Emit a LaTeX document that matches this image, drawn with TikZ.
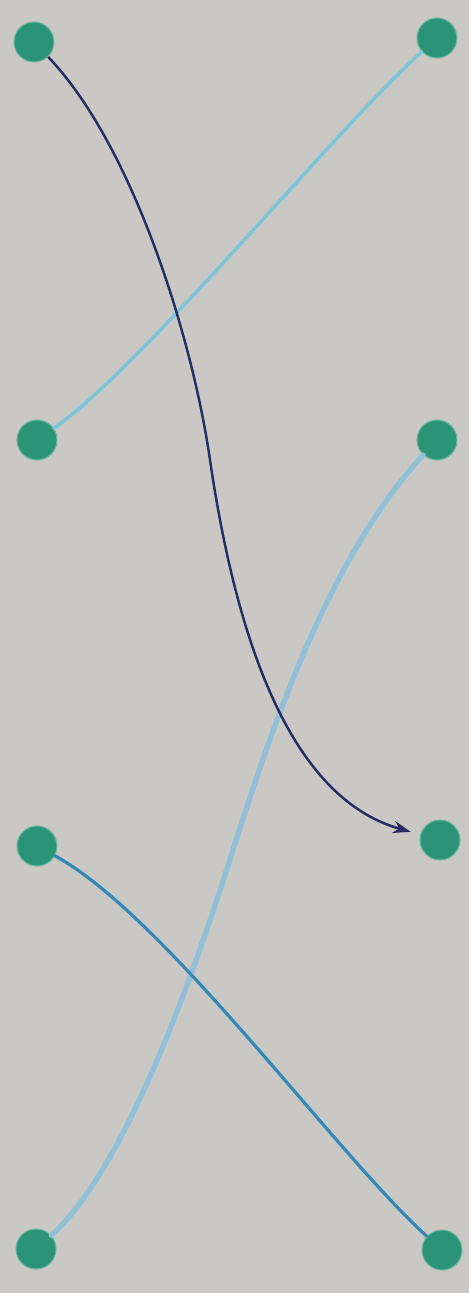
\documentclass[tikz,border=0pt]{standalone}
\usepackage{xcolor}
\usetikzlibrary{arrows.meta}
\definecolor{paper}{RGB}{202,200,197}
\definecolor{dotgreen}{RGB}{44,148,118}
\definecolor{inkdark}{RGB}{40,44,100}
\definecolor{inklight}{RGB}{125,196,216}
\definecolor{inkfaint}{RGB}{145,192,214}
\definecolor{inkmid}{RGB}{52,136,182}
\begin{document}
\begin{tikzpicture}[x=0.02cm, y=-0.02cm,
  dot/.style={circle, fill=dotgreen, draw=dotgreen!70!white, line width=0.6pt, minimum size=0.8cm, inner sep=0pt},
  a/.style={-{Stealth[length=10pt, width=7pt]}, line width=1.4pt, draw=inkdark, shorten >=0.2cm},
  lb/.style={line width=2pt, draw=inklight, line cap=round},
  fb/.style={line width=3pt, draw=inkfaint, line cap=round},
  mb/.style={line width=1.8pt, draw=inkmid, line cap=round}]
\fill[paper] (0,0) rectangle (469,1293);
\useasboundingbox (0,0) rectangle (469,1293);
% left column
\node[dot] (l1) at (34,42)    {};
\node[dot] (l2) at (37,440)   {};
\node[dot] (l3) at (37,846)   {};
\node[dot] (l4) at (36,1249)  {};
% right column
\node[dot] (r1) at (437,38)   {};
\node[dot] (r2) at (437,440)  {};
\node[dot] (r3) at (440,840)  {};
\node[dot] (r4) at (442,1250) {};
\coordinate (nmid) at (210,460);
\coordinate (fmid) at (233,850);
\draw[lb] (l2) .. controls (143,366) and (333,132) .. (r1);
\draw[fb] (r2) .. controls (329,557) and (272,727) .. (fmid)
  .. controls (194,974) and (126,1168) .. (l4);
\draw[mb] (l3) .. controls (165,916) and (335,1153) .. (r4);
\draw[a] (l1) .. controls (134,147) and (193,341) .. (nmid)
  .. controls (239,658) and (297,800) .. (r3);
\end{tikzpicture}
\end{document}
